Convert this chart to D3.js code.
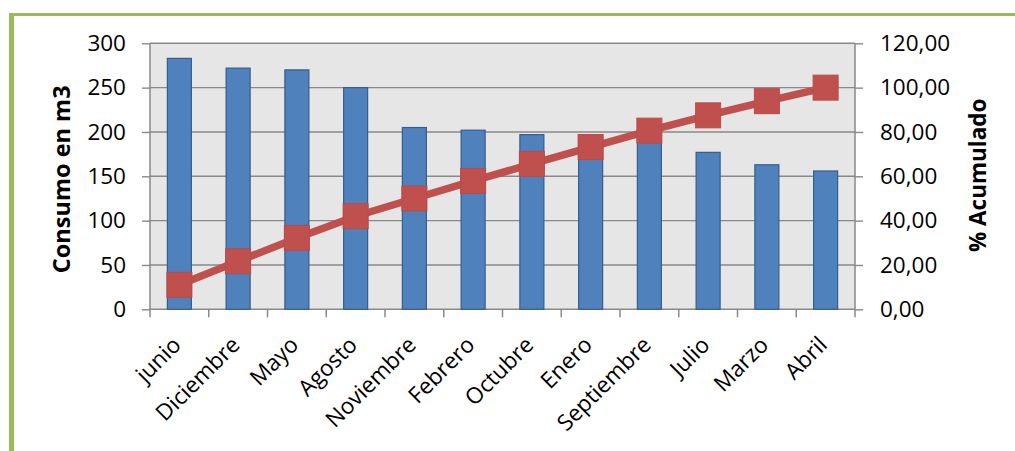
<!DOCTYPE html>
<html>
<head>
<meta charset="utf-8">
<script src="https://cdn.jsdelivr.net/npm/d3@7"></script>
<style>
  html, body { margin: 0; padding: 0; background: #ffffff; }
  svg { display: block; }
  text { font-family: "Open Sans", "Liberation Sans", sans-serif; fill: #000; }
</style>
</head>
<body>
<svg id="chart" width="1015" height="451"></svg>
<script>
// Monthly consumption (m3), sorted from highest to lowest
const months = ["junio", "Diciembre", "Mayo", "Agosto", "Noviembre", "Febrero",
                "Octubre", "Enero", "Septiembre", "Julio", "Marzo", "Abril"];
const consumption = [283, 272, 270, 250, 205, 202, 197, 194, 191, 177, 163, 156];
// Cumulative share of the total (%)
const cumulativePct = [11.05, 21.68, 32.2, 42.0, 50.0, 57.9, 65.6, 73.2, 80.6, 87.5, 93.9, 100];
// Axis ticks
const leftTicks = [0, 50, 100, 150, 200, 250, 300];
const rightTicks = [0, 20, 40, 60, 80, 100, 120];

const svg = d3.select("#chart");
const plot = { left: 150, right: 855, top: 43.3, bottom: 309.3 };

// Frame: green border along top and left
svg.append("rect").attr("x", 9).attr("y", 13).attr("width", 1006).attr("height", 3).attr("fill", "#9BBB59");
svg.append("rect").attr("x", 9).attr("y", 13).attr("width", 5).attr("height", 438).attr("fill", "#9BBB59");

const x = d3.scaleBand().domain(months).range([plot.left, plot.right]).padding(0);
const yL = d3.scaleLinear().domain([0, 300]).range([plot.bottom, plot.top]);
const yR = d3.scaleLinear().domain([0, 120]).range([plot.bottom, plot.top]);

// Plot background
svg.append("rect")
  .attr("x", plot.left).attr("y", plot.top)
  .attr("width", plot.right - plot.left).attr("height", plot.bottom - plot.top)
  .attr("fill", "#E6E6E6");

// Horizontal gridlines
svg.append("g").selectAll("line").data(leftTicks.slice(1)).join("line")
  .attr("x1", plot.left).attr("x2", plot.right)
  .attr("y1", d => yL(d)).attr("y2", d => yL(d))
  .attr("stroke", "#898989").attr("stroke-width", 1.4);

// Left axis
const leftAxis = d3.axisLeft(yL).tickValues(leftTicks).tickSize(8).tickPadding(16).tickFormat(d3.format("d"));
const gL = svg.append("g").attr("transform", `translate(${plot.left},0)`).call(leftAxis);

// Right axis
const rightAxis = d3.axisRight(yR).tickValues(rightTicks).tickSize(8).tickPadding(17)
  .tickFormat(d => d3.format(".2f")(d).replace(".", ","));
const gR = svg.append("g").attr("transform", `translate(${plot.right},0)`).call(rightAxis);

// Bottom axis with ticks at category boundaries
const gB = svg.append("g").attr("transform", `translate(0,${plot.bottom})`);
gB.append("line").attr("x1", plot.left).attr("x2", plot.right).attr("y1", 0).attr("y2", 0)
  .attr("stroke", "#898989").attr("stroke-width", 1.5);
const bounds = months.map(m => x(m)).concat([x(months[months.length - 1]) + x.bandwidth()]);
gB.selectAll("line.tk").data(bounds).join("line").attr("class", "tk")
  .attr("x1", d => d).attr("x2", d => d).attr("y1", 0).attr("y2", 8)
  .attr("stroke", "#898989").attr("stroke-width", 1.5);

[gL, gR].forEach(g => {
  g.select(".domain").attr("stroke", "#898989").attr("stroke-width", 1.5);
  g.selectAll(".tick line").attr("stroke", "#898989").attr("stroke-width", 1.4);
  g.selectAll(".tick text").attr("font-size", 22.5).attr("fill", "#000")
    .style("font-family", "'Open Sans', sans-serif");
});
gL.select(".domain").attr("d", `M0,${plot.top}V${plot.bottom}`);
gR.select(".domain").attr("d", `M0,${plot.top}V${plot.bottom}`);

// Category labels rotated 45 degrees
gB.selectAll("text.cat").data(months).join("text").attr("class", "cat")
  .attr("transform", d => `translate(${x(d) + x.bandwidth() / 2 + 3},37) rotate(-45)`)
  .attr("text-anchor", "end")
  .attr("font-size", 22.5)
  .text(d => d);

// Bars
const barW = 24;
svg.append("g").selectAll("rect").data(months).join("rect")
  .attr("x", (d) => x(d) + x.bandwidth() / 2 - barW / 2)
  .attr("y", (d, i) => yL(consumption[i]))
  .attr("width", barW)
  .attr("height", (d, i) => plot.bottom - yL(consumption[i]))
  .attr("fill", "#4F81BD")
  .attr("stroke", "#385D8A").attr("stroke-width", 1.2);

// Cumulative line with square markers
const pts = months.map((m, i) => [x(m) + x.bandwidth() / 2, yR(cumulativePct[i])]);
svg.append("path").datum(pts)
  .attr("d", d3.line())
  .attr("fill", "none").attr("stroke", "#C0504D").attr("stroke-width", 7.5);
const mk = 25;
svg.append("g").selectAll("rect").data(pts).join("rect")
  .attr("x", d => d[0] - mk / 2).attr("y", d => d[1] - mk / 2)
  .attr("width", mk).attr("height", mk)
  .attr("fill", "#C0504D").attr("stroke", "#BB4A47").attr("stroke-width", 1);

// Axis titles
svg.append("text")
  .attr("transform", `translate(70,${(plot.top + plot.bottom) / 2 + 3}) rotate(-90)`)
  .attr("text-anchor", "middle").attr("font-size", 23.5).attr("font-weight", "bold")
  .text("Consumo en m3");
svg.append("text")
  .attr("transform", `translate(986,${(plot.top + plot.bottom) / 2 - 1}) rotate(-90)`)
  .attr("text-anchor", "middle").attr("font-size", 22.5).attr("font-weight", "bold")
  .text("% Acumulado");
</script>
</body>
</html>
